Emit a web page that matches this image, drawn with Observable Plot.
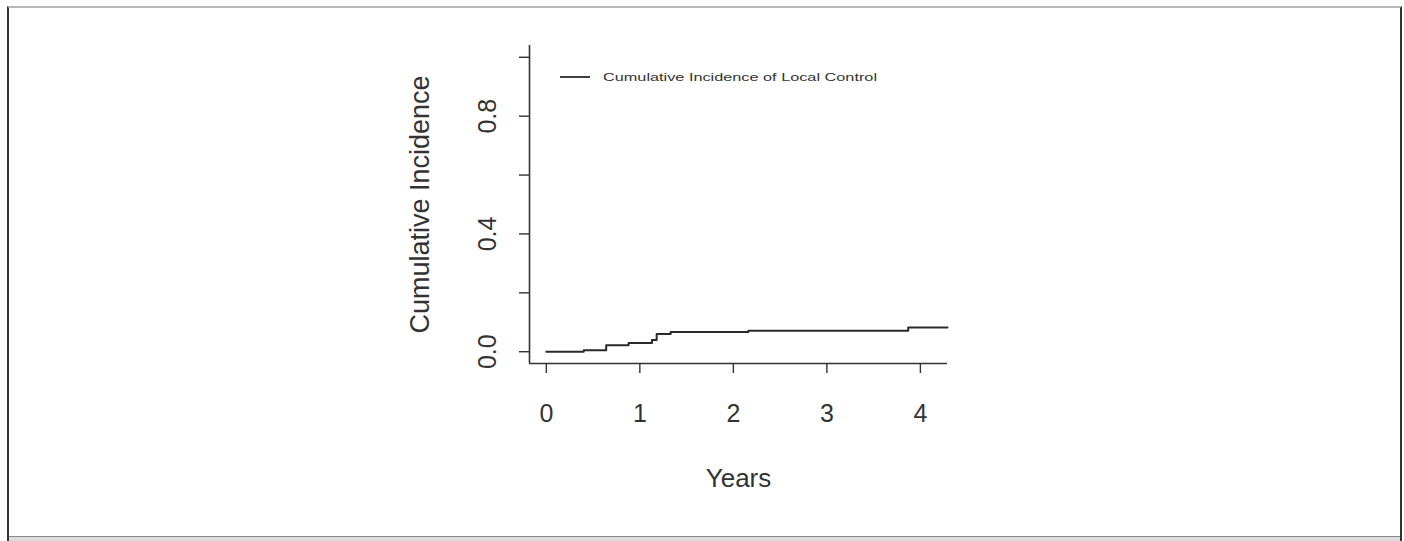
<!DOCTYPE html>
<html>
<head>
<meta charset="utf-8">
<script src="https://cdn.jsdelivr.net/npm/d3@7"></script>
<script src="https://cdn.jsdelivr.net/npm/@observablehq/plot@0.6"></script>
<style>
  html, body { margin: 0; padding: 0; background: #fff; }
  #wrap { position: relative; width: 1404px; height: 541px; overflow: hidden; }
  #frame { position: absolute; left: 7px; top: 6px; width: 1395px; height: 540px; box-sizing: border-box;
           border-left: 2px solid #333; border-right: 2px solid #333; border-top: 2px solid #b8b8b8; }
  #stripe { position: absolute; left: 9px; top: 536px; width: 1391px; height: 6px; background: #dcdcdc; border-top: 1px solid #888; }
  #chart { position: absolute; left: 0; top: 0; }
</style>
</head>
<body>
<div id="wrap">
  <div id="chart"></div>
  <div id="frame"></div>
  <div id="stripe"></div>
</div>
<script>
// Data (step function of cumulative incidence)
const years = [0, 0.40, 0.64, 0.88, 1.13, 1.18, 1.33, 2.16, 3.87, 4.29];
const cumInc = [0, 0.005, 0.022, 0.030, 0.040, 0.060, 0.067, 0.071, 0.082, 0.082];
const xTicks = [0, 1, 2, 3, 4];
const yTicks = [0, 0.2, 0.4, 0.6, 0.8, 1.0];
const yTickLabels = [0, 0.4, 0.8];
const xDomain = [-0.18, 4.29];
const yDomain = [-0.04, 1.04];
const seriesName = "Cumulative Incidence of Local Control";
const xTitle = "Years";
const yTitle = "Cumulative Incidence";

const data = years.map((t, i) => ({t, v: cumInc[i]}));
const font = "'Liberation Sans', Arial, sans-serif";
const ink = "#333";

const plot = Plot.plot({
  width: 1404,
  height: 541,
  marginLeft: 529,
  marginRight: 457,
  marginTop: 45,
  marginBottom: 178,
  style: {fontFamily: font, color: ink, background: "transparent"},
  x: {domain: xDomain, axis: null},
  y: {domain: yDomain, axis: null},
  marks: [
    Plot.ruleX([xDomain[0]], {stroke: ink, strokeWidth: 1.6}),
    Plot.ruleY([yDomain[0]], {stroke: ink, strokeWidth: 1.6}),
    Plot.axisX(xTicks, {tickSize: 10, tickPadding: 31, fontSize: 25, label: null, stroke: ink, strokeWidth: 1.4}),
    Plot.axisY(yTicks, {tickSize: 10, tickFormat: () => "", label: null, stroke: ink, strokeWidth: 1.4}),
    Plot.text(yTickLabels, {y: d => d, text: d => d.toFixed(1), frameAnchor: "left", dx: -42,
      rotate: -90, fontSize: 25, textAnchor: "middle", lineAnchor: "middle", fill: ink}),
    Plot.text([yTitle], {text: d => d, frameAnchor: "left", dx: -109, rotate: -90, fontSize: 27,
      textAnchor: "middle", lineAnchor: "middle", fill: ink}),
    Plot.text([xTitle], {text: d => d, frameAnchor: "bottom", dy: 115, fontSize: 26,
      textAnchor: "middle", lineAnchor: "middle", fill: ink}),
    Plot.line(data, {x: "t", y: "v", curve: "step-after", stroke: "#2a2a2a", strokeWidth: 2})
  ]
});
document.getElementById("chart").appendChild(plot);

// Legend (top-left inside the plot area, like R's legend("topleft"))
const svg = d3.select(plot);
const lg = svg.append("g").attr("class", "legend").attr("text-anchor", "start");
lg.append("line").attr("x1", 560).attr("x2", 590).attr("y1", 77).attr("y2", 77)
  .attr("stroke", "#2a2a2a").attr("stroke-width", 1.8);
lg.append("text").attr("x", 603).attr("y", 77).attr("dy", "0.35em")
  .attr("text-anchor", "start")
  .attr("font-size", 11.5).attr("font-family", font).attr("fill", ink)
  .attr("textLength", 274).attr("lengthAdjust", "spacingAndGlyphs")
  .text(seriesName);
</script>
</body>
</html>
